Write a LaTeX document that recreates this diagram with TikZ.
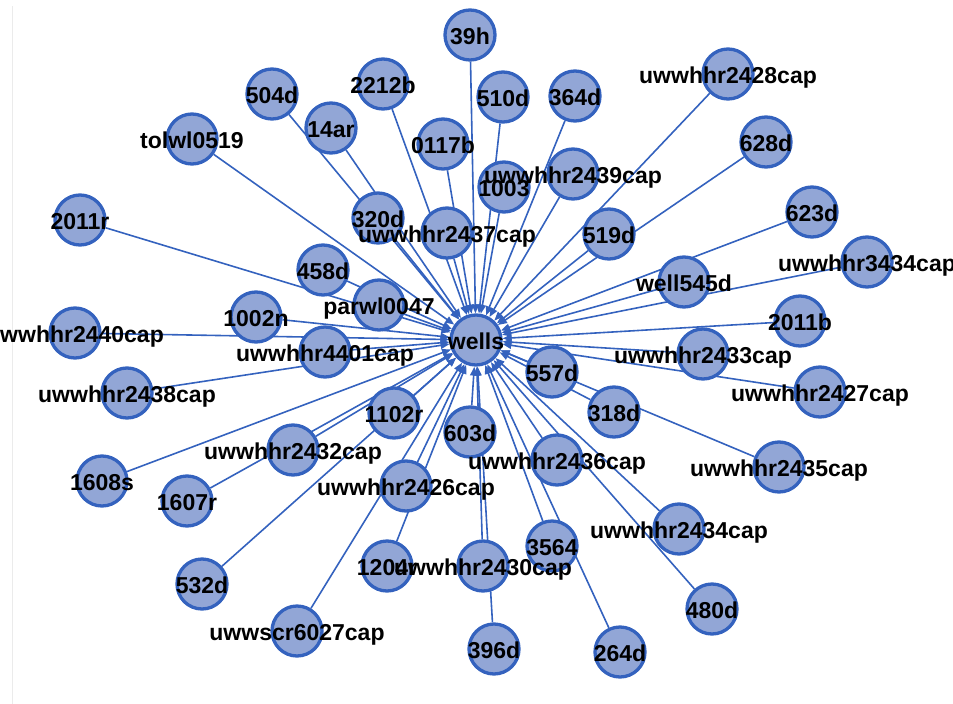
\documentclass[tikz,border=0pt]{standalone}
\usepackage{fontspec}
\setmainfont{Liberation Sans}
\usetikzlibrary{arrows.meta,backgrounds}
\definecolor{nfill}{RGB}{146,166,214}
\definecolor{nedge}{RGB}{52,98,190}
\definecolor{frameline}{RGB}{235,235,235}
\begin{document}
\begin{tikzpicture}[x=1pt,y=-1pt,
  vtx/.style={circle,fill=nfill,draw=nedge,line width=3.3pt,minimum size=50pt,inner sep=0pt},
  lbl/.style={font=\fontsize{23}{25}\selectfont\bfseries,text=black,inner sep=0pt,anchor=base},
  edge/.style={draw=nedge,line width=1.6pt,-{Triangle[length=9pt,width=7pt]}}]
\useasboundingbox (0,0) rectangle (953,704);
\draw[frameline,line width=1pt] (12,6) -- (12,704);
\node[vtx] (nwells) at (476,340) {};
\foreach \n/\x/\y in {39h/470/35,504d/272/94,2212b/383/84,14ar/331/128,tolwl/192/139,0117b/443/144,510d/503/97,364d/575/96,u2428/728/74,628d/766/142,1003/504/187,u2439/573/174,320d/378/218,u2437/447/233,519d/609/234,623d/812/212,2011r/80/220,458d/323/270,parwl/379/305,well545d/684/282,u3434/867/262,1002n/256/317,u2440/75/333,u4401/325/352,2011b/800/321,u2433/703/354,557d/552/372,u2427/820/392,u2438/127/393,318d/614/412,1102r/394/413,603d/470/432,u2432/293/450,u2436/557/460,u2435/779/467,1608s/102/481,1607r/187/501,u2426/406/486,u2434/679/529,3564/552/546,1204r/387/566,u2430/483/566,532d/202/584,480d/712/609,u6027/297/631,396d/494/649,264d/620/652}
  {\node[vtx] (n\n) at (\x,\y) {};}
\begin{scope}[on background layer]
\foreach \n in {39h,504d,2212b,14ar,tolwl,0117b,510d,364d,u2428,628d,1003,u2439,320d,u2437,519d,623d,2011r,458d,parwl,well545d,u3434,1002n,u2440,u4401,2011b,u2433,557d,u2427,u2438,318d,1102r,603d,u2432,u2436,u2435,1608s,1607r,u2426,u2434,3564,1204r,u2430,532d,480d,u6027,396d,264d}
  {\draw[edge] (n\n) -- (nwells);}
\end{scope}
\foreach \n/\t in {wells/wells,39h/39h,504d/504d,2212b/2212b,14ar/14ar,tolwl/tolwl0519,0117b/0117b,510d/510d,364d/364d,u2428/uwwhhr2428cap,628d/628d,1003/1003,u2439/uwwhhr2439cap,320d/320d,u2437/uwwhhr2437cap,519d/519d,623d/623d,2011r/2011r,458d/458d,parwl/parwl0047,well545d/well545d,u3434/uwwhhr3434cap,1002n/1002n,u2440/uwwhhr2440cap,u4401/uwwhhr4401cap,2011b/2011b,u2433/uwwhhr2433cap,557d/557d,u2427/uwwhhr2427cap,u2438/uwwhhr2438cap,318d/318d,1102r/1102r,603d/603d,u2432/uwwhhr2432cap,u2436/uwwhhr2436cap,u2435/uwwhhr2435cap,1608s/1608s,1607r/1607r,u2426/uwwhhr2426cap,u2434/uwwhhr2434cap,3564/3564,1204r/1204r,u2430/uwwhhr2430cap,532d/532d,480d/480d,u6027/uwwscr6027cap,396d/396d,264d/264d}
  {\node[lbl] (t\n) at ([yshift=-9pt]n\n.center) {\t};}
\end{tikzpicture}
\end{document}
